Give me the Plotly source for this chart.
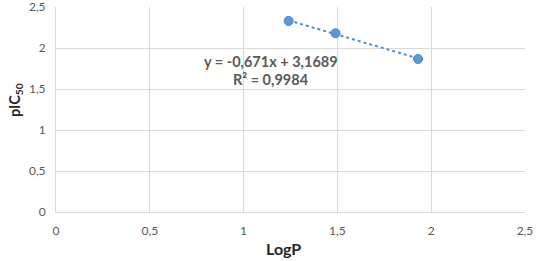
import numpy as np
import plotly.graph_objects as go

logp = [1.24, 1.49, 1.93]
pic50 = [2.33, 2.18, 1.866]
trend_slope = -0.671
trend_intercept = 3.1689
eq_text = "y = -0,671x + 3,1689"
r2_text = "R² = 0,9984"
x_title = "LogP"
y_title = "pIC<sub>50</sub>"
tick_vals = [0, 0.5, 1, 1.5, 2, 2.5]
tick_text = ["0", "0,5", "1", "1,5", "2", "2,5"]

FONT = "Lato, Open Sans, sans-serif"
GRAY = "#595959"
BLUE = "#5b9bd5"

tx = [min(logp), max(logp)]
ty = [trend_slope * v + trend_intercept for v in tx]

fig = go.Figure()
fig.add_trace(go.Scatter(x=tx, y=ty, mode="lines",
                         line=dict(color="#4f8fd0", width=2, dash="dot"),
                         hoverinfo="skip", showlegend=False))
fig.add_trace(go.Scatter(x=logp, y=pic50, mode="markers",
                         marker=dict(color=BLUE, size=9,
                                     line=dict(color="#4a86c0", width=1)),
                         showlegend=False))

fig.add_annotation(x=1.144, y=1.84, xref="x", yref="y", text="<b>" + eq_text + "</b>",
                   showarrow=False, font=dict(family=FONT, size=14.5, color=GRAY))
fig.add_annotation(x=1.144, y=1.61, xref="x", yref="y", text="<b>" + r2_text + "</b>",
                   showarrow=False, font=dict(family=FONT, size=14.5, color=GRAY))

fig.add_annotation(x=-0.0874, y=0.546, xref="paper", yref="paper",
                   text="<b>" + y_title + "</b>", textangle=-90, showarrow=False,
                   xanchor="center", yanchor="middle",
                   font=dict(family=FONT, size=14.5, color="#262626"))
fig.add_annotation(x=0.486, y=-0.18, xref="paper", yref="paper",
                   text="<b>" + x_title + "</b>", showarrow=False,
                   xanchor="center", yanchor="middle",
                   font=dict(family=FONT, size=16, color="#262626"))

fig.update_layout(
    width=536, height=261,
    margin=dict(l=56, r=11, t=7, b=49, autoexpand=False),
    paper_bgcolor="white", plot_bgcolor="white",
    font=dict(family=FONT, size=12, color=GRAY),
    xaxis=dict(range=[0, 2.5001], tickvals=tick_vals, ticktext=tick_text, showgrid=True,
               gridcolor="#d9d9d9", gridwidth=1, zeroline=False, showline=True,
               linecolor="#d9d9d9", ticks="outside", ticklen=8, tickcolor="rgba(0,0,0,0)",
               automargin=False, ticklabeloverflow="allow",
               tickfont=dict(size=12, color=GRAY)),
    yaxis=dict(range=[0, 2.5001], tickvals=tick_vals, ticktext=tick_text, showgrid=True,
               gridcolor="#d9d9d9", gridwidth=1, zeroline=False, showline=True,
               linecolor="#d9d9d9", ticks="outside", ticklen=7, tickcolor="rgba(0,0,0,0)",
               automargin=False, ticklabeloverflow="allow",
               tickfont=dict(size=12, color=GRAY)),
)

fig.write_html("out.html", config={"displayModeBar": False},
               post_script="document.body.style.margin='0';document.body.style.padding='0';")
